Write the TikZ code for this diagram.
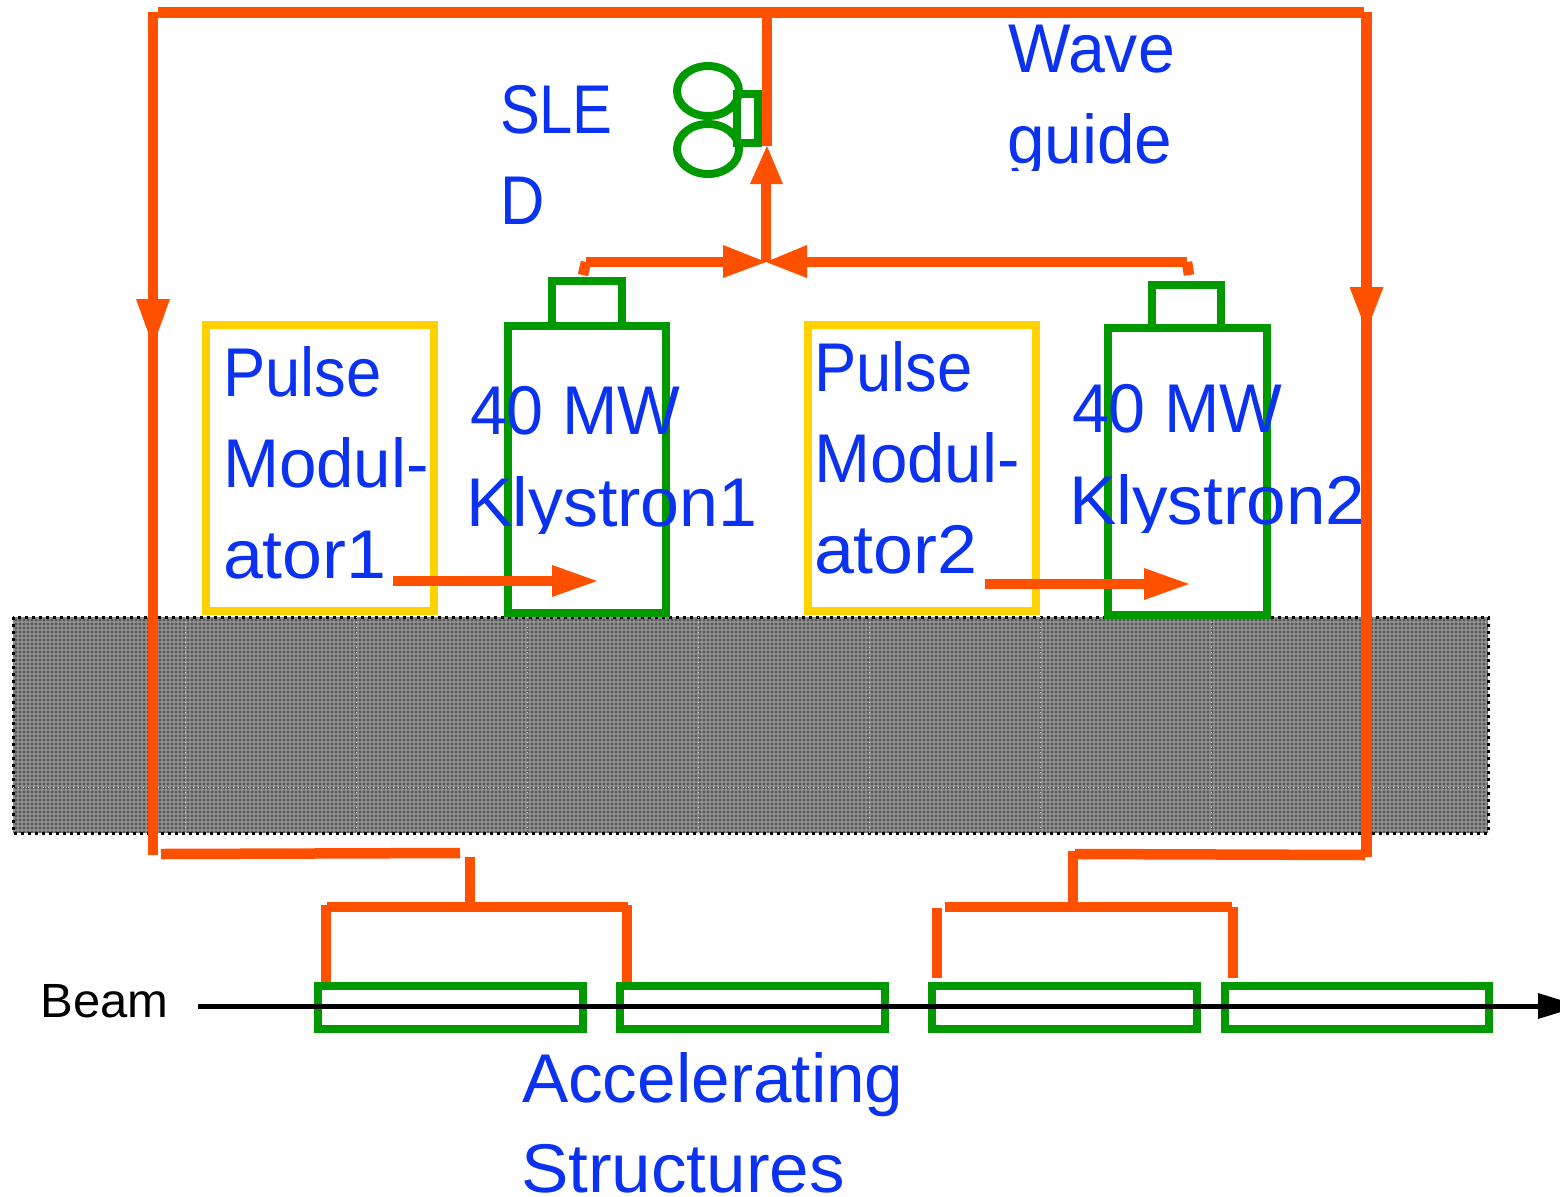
\documentclass[tikz,border=0pt]{standalone}
\usepackage{fontspec}
\setmainfont{Liberation Sans}
\usetikzlibrary{patterns.meta}
\definecolor{wgorange}{RGB}{255,80,0}
\definecolor{krgreen}{RGB}{0,153,0}
\definecolor{modyellow}{RGB}{255,210,0}
\definecolor{lblblue}{RGB}{10,50,240}
\tikzset{
 x=0.5pt,y=-0.5pt,
 wg/.style={draw=wgorange,line width=5.25pt},
 greenbox/.style={draw=krgreen,line width=4pt,inner sep=0pt,outer sep=0pt},
 modbox/.style={draw=modyellow,line width=4pt,inner sep=0pt,outer sep=0pt},
 lbl/.style={text=lblblue,font=\fontsize{34.5}{40}\selectfont,anchor=base west,inner sep=0pt,outer sep=0pt},
 box/.style args={#1x#2}{minimum width=#1*0.5pt,minimum height=#2*0.5pt},
}
\newcommand{\sx}[2]{\scalebox{#1}[1]{#2}}
\begin{document}
\begin{tikzpicture}
\useasboundingbox (0,0) rectangle (1560,1196);
% ground slab
\fill[gray] (13,617) rectangle (1488,833);
\fill[pattern={Dots[radius=0.42pt,distance=2pt]},pattern color=black!60!gray] (13,617) rectangle (1488,833);
\fill[pattern={Dots[radius=0.3pt,distance=2pt,xshift=1pt,yshift=1pt]},pattern color=white!70!gray] (13,617) rectangle (1488,833);
\draw[black,line width=1.5pt,dotted] (13,617) rectangle (1488,833);
\foreach \vx in {185,356,527,698,869,1040,1211}
  \draw[white!70!gray,line width=0.5pt,dotted] (\vx,617) -- (\vx,833);
\draw[white!70!gray,line width=0.5pt,dotted] (13,787) -- (1488,787);

% boxes
\node[modbox,box=228x286] (mod1) at (319.5,468) {};
\node[modbox,box=228x286] (mod2) at (922,468) {};
\node[greenbox,box=158x287] (kly1) at (587,469.5) {};
\node[greenbox,box=70x45] (win1) at (587,303.5) {};
\node[greenbox,box=159x287] (kly2) at (1187.5,471.5) {};
\node[greenbox,box=69x43] (win2) at (1186.5,306.5) {};
\node[greenbox,box=265x43] (as1) at (450.5,1007.5) {};
\node[greenbox,box=265x43] (as2) at (752,1007.5) {};
\node[greenbox,box=265x43] (as3) at (1064,1007.5) {};
\node[greenbox,box=264x43] (as4) at (1357,1007.5) {};
\draw[krgreen,line width=4pt] (708,91) ellipse [x radius=31,y radius=25];
\draw[krgreen,line width=4pt] (708,149) ellipse [x radius=31,y radius=25];
\node[greenbox,box=21x49] (sledbox) at (747.5,118.5) {};

% labels
\node[lbl] (tsled1) at (500,133) {\sx{0.865}{SLE}};
\node[lbl] (tsled2) at (500,224) {\sx{0.89}{D}};
\node[lbl] (twave) at (1008,72) {\sx{0.96}{Wave}};
\begin{scope}
\clip (1000,100) rectangle (1200,170);
\node[lbl] (tguide) at (1007,163) {\sx{0.98}{guide}};
\end{scope}
\node[lbl] (tp1) at (223,396) {\sx{0.918}{Pulse}};
\node[lbl] (tm1) at (223,487) {\sx{0.976}{Modul-}};
\node[lbl] (ta1) at (223,578) {\sx{1.04}{ator1}};
\node[lbl] (tp2) at (814,391) {\sx{0.918}{Pulse}};
\node[lbl] (tm2) at (814,482) {\sx{0.976}{Modul-}};
\node[lbl] (ta2) at (814,573) {\sx{1.04}{ator2}};
\node[lbl] (tk1a) at (470,434) {\sx{0.963}{40 MW}};
\begin{scope}
\clip (460,460) rectangle (780,533);
\node[lbl] (tk1b) at (466,526) {\sx{1.014}{Klystron1}};
\end{scope}
\node[lbl] (tk2a) at (1072,432) {\sx{0.963}{40 MW}};
\begin{scope}
\clip (1060,460) rectangle (1380,532);
\node[lbl] (tk2b) at (1069,524) {\sx{1.03}{Klystron2}};
\end{scope}
\node[lbl] (tacc) at (522,1102) {\sx{1.005}{Accelerating}};
\node[lbl] (tstr) at (521,1192) {\sx{1.03}{Structures}};
\node[anchor=base west,inner sep=0pt,font=\fontsize{24}{28}\selectfont] (tbeam) at (40,1017) {\sx{1.02}{Beam}};

% named ends
\coordinate (tl) at (158,12.5);
\coordinate (tr) at (1364,12.5);
\coordinate (tc) at (767,13);
\coordinate (sledin) at (767,146);
\coordinate (join) at (766,262);
\coordinate (ls) at (153,12);
\coordinate (rs) at (1366.5,12);
\coordinate (la) at (153,346);
\coordinate (ra) at (1366.5,331);
\coordinate (lb) at (153,855);
\coordinate (rb) at (1366.5,857);
\coordinate (k1o) at (586,262);
\coordinate (k2o) at (1187,262);
\coordinate (k1s) at (583,275);
\coordinate (k2s) at (1189,275);

% waveguides
\draw[wg] (tl) -- (tr);
\draw[wg] (tc) -- (sledin);
\draw[wg] (ls) -- (lb);
\draw[wg] (rs) -- (rb);
\fill[wgorange] (la) -- ++(-17,-47) -- ++(34,0) -- cycle;
\fill[wgorange] (ra) -- ++(-17,-44) -- ++(34,0) -- cycle;
\draw[wg] (join) -- (766,180);
\fill[wgorange] (sledin) -- ++(-17,38) -- ++(33,0) -- cycle;
\draw[wg] (k1o) -- (730,262);
\fill[wgorange] (join) -- ++(-43,-17) -- ++(0,33) -- cycle;
\draw[wg] (k2o) -- (800,262);
\fill[wgorange] (join) -- ++(41,-17) -- ++(0,33) -- cycle;
\draw[wg] (k1s) -- (k1o);
\draw[wg] (k2s) -- (k2o);

% pulse arrows
\coordinate (p1a) at (393,581); \coordinate (p1b) at (597,581);
\coordinate (p2a) at (985,584); \coordinate (p2b) at (1189,584);
\draw[wg] (p1a) -- (556,581);
\fill[wgorange] (p1b) -- ++(-45,-16) -- ++(0,32) -- cycle;
\draw[wg] (p2a) -- (1148,584);
\fill[wgorange] (p2b) -- ++(-45,-16) -- ++(0,32) -- cycle;

% bottom feeds
\coordinate (a) at (161,854); \coordinate (b) at (460,853);
\coordinate (c) at (470,857); \coordinate (d) at (470,907);
\coordinate (e) at (327,907); \coordinate (f) at (628,907);
\coordinate (g) at (326,982); \coordinate (h) at (627,982);
\coordinate (i) at (1365,855); \coordinate (j) at (1075,854);
\coordinate (k) at (1073,851); \coordinate (l) at (1073,907);
\coordinate (m) at (945,907); \coordinate (n) at (1232,907);
\coordinate (o) at (937,908); \coordinate (p) at (937,978);
\coordinate (q) at (1233,907); \coordinate (r) at (1233,978);
\draw[wg] (a) -- (b);
\draw[wg] (c) -- (d);
\draw[wg] (e) -- (f);
\draw[wg] (326,905) -- (g);
\draw[wg] (627,905) -- (h);
\draw[wg] (i) -- (j);
\draw[wg] (k) -- (l);
\draw[wg] (m) -- (n);
\draw[wg] (o) -- (p);
\draw[wg] (q) -- (r);

% beam
\coordinate (bs) at (198,1006);
\coordinate (be) at (1540,1006);
\draw[black,line width=2.5pt] (bs) -- (be);
\fill[black] (1538,993) -- (1580,1006) -- (1538,1019) -- cycle;
\end{tikzpicture}
\end{document}
